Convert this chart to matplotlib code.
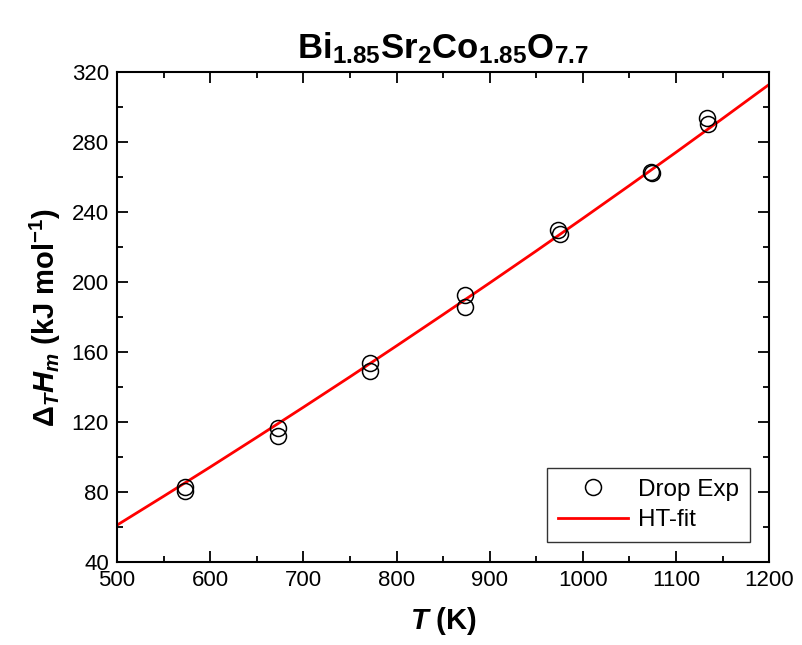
import numpy as np
import matplotlib
matplotlib.use('Agg')
import matplotlib.pyplot as plt
from matplotlib.ticker import MultipleLocator

plt.rcParams['font.family'] = ['Liberation Sans', 'DejaVu Sans']
plt.rcParams['mathtext.fontset'] = 'custom'
plt.rcParams['mathtext.rm'] = 'Liberation Sans:bold'
plt.rcParams['mathtext.bf'] = 'Liberation Sans:bold'
plt.rcParams['mathtext.it'] = 'Liberation Sans:bold:italic'

# Drop calorimetry data
T_exp = [573, 573, 673, 673, 771, 771, 873, 873, 973, 975, 1073, 1074, 1133, 1134]
H_exp = [82.7, 80.5, 116.4, 112.2, 153.6, 149.0, 192.6, 185.8, 230.0, 227.2, 263.2, 262.4, 293.6, 290.2]

# HT fit curve
T_fit = [500, 550, 600, 650, 700, 750, 800, 850, 900, 950, 1000, 1050, 1100, 1150, 1200]
H_fit = [61.0, 77.5, 94.2, 111.2, 128.4, 145.8, 163.5, 181.4, 199.5, 217.8, 236.4, 255.2, 274.2, 293.5, 313.0]

fig = plt.figure(figsize=(8.02, 6.45), dpi=100)
ax = fig.add_axes([0.146, 0.129, 0.813, 0.759])

ax.plot(T_exp, H_exp, 'o', mfc='none', mec='black', ms=11.5, mew=1.1, label='Drop Exp', zorder=3)
ax.plot(T_fit, H_fit, '-', color='#ff0000', lw=2, label='HT-fit', zorder=2)

ax.set_xlim(500, 1200)
ax.set_ylim(40, 320)
ax.xaxis.set_major_locator(MultipleLocator(100))
ax.xaxis.set_minor_locator(MultipleLocator(50))
ax.yaxis.set_major_locator(MultipleLocator(40))
ax.yaxis.set_minor_locator(MultipleLocator(20))
ax.tick_params(which='both', direction='in', top=True, right=True, width=1.3, labelsize=16)
ax.tick_params(which='major', length=8, pad=6)
ax.tick_params(which='minor', length=4)
for s in ax.spines.values():
    s.set_linewidth(1.5)

ax.set_xlabel(r'$\mathit{T}$ (K)', fontsize=21, fontweight='bold', labelpad=10)
ax.set_ylabel(r'$\Delta_{\mathit{T}}\mathit{H}_{\mathit{m}}$ (kJ mol$^{-1}$)', fontsize=21, fontweight='bold', labelpad=6)
ax.set_title(r'$\mathrm{Bi_{1.85}Sr_{2}Co_{1.85}O_{7.7}}$', fontsize=25, pad=10)

leg = ax.legend(loc='lower right', fontsize=17.5, frameon=True, fancybox=False, edgecolor='black',
                borderaxespad=0.8, handlelength=2.9, handletextpad=0.4, borderpad=0.45, labelspacing=0.35)
leg.get_frame().set_linewidth(1.0)

plt.savefig('out.png', dpi=100)
